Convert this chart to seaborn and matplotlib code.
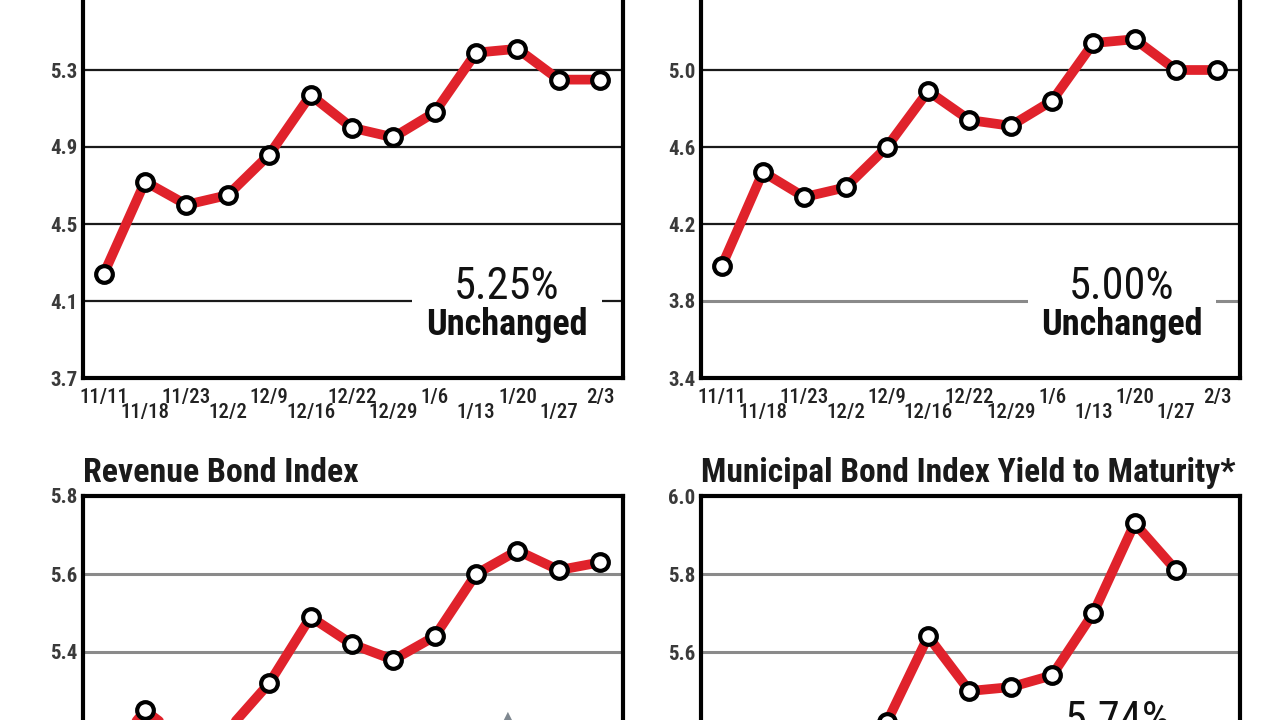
import numpy as np
import matplotlib
matplotlib.use("Agg")
import matplotlib.pyplot as plt
import matplotlib.patches as mpatches
from matplotlib import font_manager as fm
import seaborn as sns

# weekly dates shared by all four panels
dates = ["11/11", "11/18", "11/23", "12/2", "12/9", "12/16", "12/22",
         "12/29", "1/6", "1/13", "1/20", "1/27", "2/3"]

# values
top_left = [4.24, 4.72, 4.60, 4.65, 4.86, 5.17, 5.00, 4.95, 5.08, 5.39, 5.41, 5.25, 5.25]
top_right = [3.98, 4.47, 4.34, 4.39, 4.60, 4.89, 4.74, 4.71, 4.84, 5.14, 5.16, 5.00, 5.00]
revenue = [5.12, 5.25, 5.17, 5.20, 5.32, 5.49, 5.42, 5.38, 5.44, 5.60, 5.66, 5.61, 5.63]
municipal = [5.22, 5.36, 5.31, 5.33, 5.42, 5.64, 5.50, 5.51, 5.54, 5.70, 5.93, 5.81, np.nan]

tl_ticks = [3.7, 4.1, 4.5, 4.9, 5.3, 5.7]
tr_ticks = [3.4, 3.8, 4.2, 4.6, 5.0, 5.4]
rev_ticks = [5.0, 5.2, 5.4, 5.6, 5.8]
muni_ticks = [5.2, 5.4, 5.6, 5.8, 6.0]

sns.set_style("white")

# pick a narrow face if one is installed
names = {f.name for f in fm.fontManager.ttflist}
has_cond = any(f.name == "DejaVu Sans" and "condensed" in str(f.stretch)
               for f in fm.fontManager.ttflist)
if "Liberation Sans Narrow" in names:
    FAM, STRETCH = "Liberation Sans Narrow", "normal"
elif "Roboto Condensed" in names:
    FAM, STRETCH = "Roboto Condensed", "normal"
elif has_cond:
    FAM, STRETCH = "DejaVu Sans", "condensed"
else:
    FAM, STRETCH = "Roboto", "normal"
plt.rcParams['font.family'] = [FAM, 'DejaVu Sans']
plt.rcParams['font.stretch'] = STRETCH

RED = "#e0222b"
x = np.arange(len(dates))

fig = plt.figure(figsize=(12.8, 7.2), dpi=100)
renderer = fig.canvas.get_renderer()


def fit_width(txt, target_px):
    w = txt.get_window_extent(renderer=renderer).width
    txt.set_fontsize(txt.get_fontsize() * target_px / w)


# axes placed so the figure shows the same cropped window as the reference
ax_tl = fig.add_axes([83 / 1280, 1 - 378 / 720, 540 / 1280, 385 / 720])
ax_tr = fig.add_axes([701 / 1280, 1 - 378 / 720, 539 / 1280, 385 / 720])
ax_bl = fig.add_axes([83 / 1280, 1 - 808 / 720, 540 / 1280, 312 / 720])
ax_br = fig.add_axes([701 / 1280, 1 - 808 / 720, 539 / 1280, 312 / 720])


def draw_panel(ax, vals, ticks, title=None, title_w=None, gray=(), all_gray=False):
    sns.lineplot(x=x, y=vals, ax=ax, color=RED, linewidth=7, marker="o",
                 markersize=12, markerfacecolor="white", markeredgecolor="black",
                 markeredgewidth=3.0, zorder=5)
    ax.set_xlim(-0.5, 12.55)
    ax.set_ylim(ticks[0], ticks[-1])
    ax.set_yticks(ticks)
    ax.set_yticklabels([f"{t:.1f}" for t in ticks], fontsize=15, color="#3a3a3a",
                       fontweight="bold")
    ax.set_xticks(x)
    ax.set_xticklabels(dates, fontsize=15, color="#222222", fontweight="medium")
    ax.tick_params(axis="x", direction="in", length=7, width=2, color="black")
    ax.tick_params(axis="y", length=0, pad=4)
    for i, t in enumerate(ax.xaxis.get_major_ticks()):
        t.set_pad(7 if i % 2 == 0 else 18)
    for t in ticks[1:-1]:
        if all_gray or t in gray:
            ax.axhline(t, color="#8a8a8a", linewidth=2.2, zorder=1)
        else:
            ax.axhline(t, color="#1a1a1a", linewidth=1.6, zorder=1)
    for s in ax.spines.values():
        s.set_visible(True)
        s.set_color("black")
        s.set_linewidth(3)
    ax.set_xlabel("")
    ax.set_ylabel("")
    if title:
        tt = ax.set_title(title, loc="left", fontsize=21, fontweight="bold", pad=10,
                          color="#1a1a1a")
        fit_width(tt, title_w)


draw_panel(ax_tl, top_left, tl_ticks)
draw_panel(ax_tr, top_right, tr_ticks, gray=(3.8,))
draw_panel(ax_bl, revenue, rev_ticks, title="Revenue Bond Index", title_w=275,
           all_gray=True)
draw_panel(ax_br, municipal, muni_ticks, title="Municipal Bond Index Yield to Maturity*",
           title_w=536, all_gray=True)


def note(ax, x0, x1, xc, big, small):
    ax.add_patch(mpatches.Rectangle((x0, 0.08), x1 - x0, 0.21, transform=ax.transAxes,
                                    facecolor="white", edgecolor="none", zorder=2))
    t1 = ax.text(xc, 0.236, big, transform=ax.transAxes, ha="center", va="center",
                 fontsize=23, color="#111111", fontweight="normal", zorder=3)
    t2 = ax.text(xc, 0.137, small, transform=ax.transAxes, ha="center", va="center",
                 fontsize=23, fontweight="bold", color="#111111", zorder=3)
    fit_width(t1, 106)
    fit_width(t2, 162)


note(ax_tl, 0.609, 0.961, 0.785, "5.25%", "Unchanged")
note(ax_tr, 0.607, 0.955, 0.781, "5.00%", "Unchanged")

t3 = ax_br.text(0.774, 0.28, "5.74%", transform=ax_br.transAxes, ha="center",
                va="center", fontsize=23, color="#111111", fontweight="normal", zorder=3)
fit_width(t3, 106)
ax_bl.text(0.787, 0.268, "\u25b2", transform=ax_bl.transAxes, ha="center", va="center",
           fontsize=26, color="#7f8890", family="DejaVu Sans", zorder=3)

fig.savefig("out.png", dpi=100)
